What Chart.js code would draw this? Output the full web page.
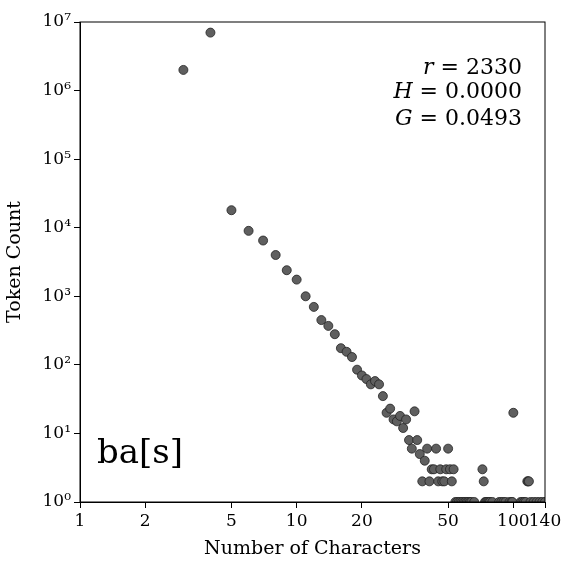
<!DOCTYPE html><html><head><script src="https://cdn.jsdelivr.net/npm/chart.js"></script>
<style>html,body{margin:0;background:#fff}#w{width:583px;height:564px}</style></head><body><div id="w"><canvas id="c"></canvas></div>
<script>
const lengths=[3,4,5,6,7,8,9,10,11,12,13,14,15,16,17,18,19,20,21,22,23,24,25,26,27,28,29,30,31,32,33,34,35,36,37,38,39,40,41,42,43,44,45,46,47,48,49,50,51,52,53,54,55,56,57,58,59,60,61,62,63,64,66,72,73,74,75,76,77,78,80,86,88,90,92,96,98,99,100,108,110,112,114,116,117,118,120,124,128,132,136,140];
const counts=[2e6,7e6,18000,9000,6500,4000,2400,1750,1000,700,450,370,280,175,155,130,85,70,62,52,58,52,35,20,23,16,15,18,12,16,8,6,21,8,5,2,4,6,2,3,3,6,2,3,2,2,3,6,3,2,3,1,1,1,1,1,1,1,1,1,1,1,1,3,2,1,1,1,1,1,1,1,1,1,1,1,1,1,20,1,1,1,1,2,2,2,1,1,1,1,1,1];
const xTicks=[1,2,5,10,20,50,100,140];
const yTicks=[1,10,100,1e3,1e4,1e5,1e6,1e7];
const sup=['⁰','¹','²','³','⁴','⁵','⁶','⁷'];
const pts=lengths.map((l,i)=>({x:l,y:counts[i]}));
const font={family:'DejaVu Serif',size:17};
const txt={id:'txt',afterDraw(ch){const c=ch.ctx;c.save();c.fillStyle='#000';
c.font='22px DejaVu Serif';c.textAlign='right';
const L=[['r',' = 2330',74],['H',' = 0.0000',98],['G',' = 0.0493',125]];
L.forEach(([v,s,y])=>{const w=c.measureText(s).width;c.fillText(s,522,y);c.font='italic 22px DejaVu Serif';c.fillText(v,522-w,y);c.font='22px DejaVu Serif';});
c.textAlign='left';c.font='34px DejaVu Serif';c.fillText('ba[s]',97,463);
const a=ch.chartArea;c.strokeStyle='#000';c.lineWidth=1;c.strokeRect(a.left,a.top,a.right-a.left,a.bottom-a.top);c.restore();}};
new Chart(document.getElementById('c'),{type:'scatter',data:{datasets:[{data:pts,backgroundColor:'#5f5f5f',borderColor:'#222',borderWidth:0.8,pointRadius:4.5}]},
options:{responsive:true,maintainAspectRatio:false,animation:false,layout:{padding:{top:22,right:38,left:0,bottom:0}},
plugins:{legend:{display:false},tooltip:{enabled:false}},
scales:{x:{type:'logarithmic',min:1,max:140,afterBuildTicks:s=>{s.ticks=xTicks.map(v=>({value:v}))},
ticks:{color:'#000',font,autoSkip:false,maxRotation:0,callback:v=>String(v)},grid:{drawOnChartArea:false,color:'#000',tickLength:6},border:{color:'#000'},
title:{display:true,text:'Number of Characters',color:'#000',font:{family:'DejaVu Serif',size:19},padding:{top:0}},afterFit:s=>{s.height=62}},
y:{type:'logarithmic',min:1,max:1e7,afterBuildTicks:s=>{s.ticks=yTicks.map(v=>({value:v}))},
ticks:{color:'#000',font,autoSkip:false,callback:v=>'10'+sup[Math.round(Math.log10(v))]},grid:{drawOnChartArea:false,color:'#000',tickLength:6},border:{color:'#000'},
title:{display:true,text:'Token Count',color:'#000',font:{family:'DejaVu Serif',size:19}},afterFit:s=>{s.width=80}}}},plugins:[txt]});
</script></body></html>
